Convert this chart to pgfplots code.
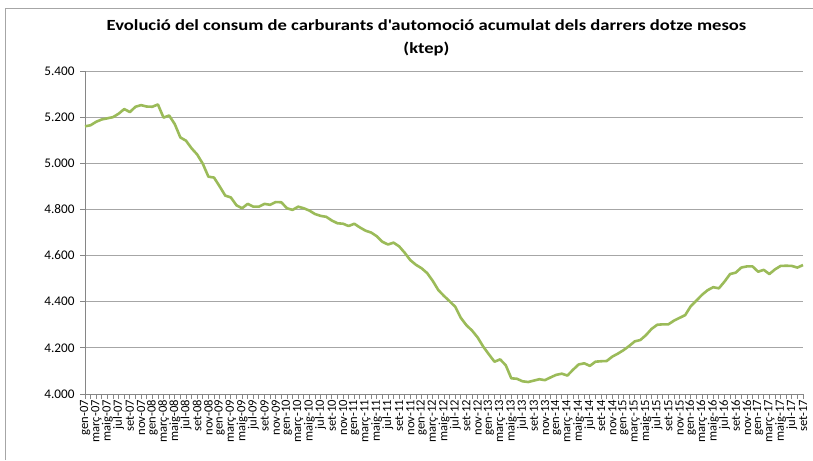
\documentclass[border=0pt]{standalone}
\usepackage{pgfplots}
\pgfplotsset{compat=1.18}
\usepackage{pgfplotstable}
\usepackage{fontspec}
\setmainfont{Carlito}
\newfontfamily\titlefont[FakeStretch=1.2]{Carlito}
\definecolor{linegreen}{HTML}{9BBB59}
\definecolor{gridgray}{HTML}{A6A6A6}
\definecolor{axisgray}{HTML}{868686}
\pgfplotstableread{
i v
0 5160
1 5165
2 5180
3 5190
4 5195
5 5200
6 5215
7 5235
8 5222
9 5245
10 5252
11 5246
12 5245
13 5255
14 5198
15 5207
16 5170
17 5112
18 5098
19 5065
20 5038
21 4998
22 4942
23 4938
24 4900
25 4860
26 4852
27 4818
28 4805
29 4824
30 4812
31 4812
32 4824
33 4820
34 4832
35 4831
36 4805
37 4798
38 4812
39 4805
40 4795
41 4780
42 4772
43 4768
44 4752
45 4740
46 4738
47 4728
48 4738
49 4722
50 4708
51 4700
52 4684
53 4660
54 4648
55 4656
56 4640
57 4612
58 4580
59 4560
60 4545
61 4524
62 4490
63 4450
64 4425
65 4402
66 4378
67 4330
68 4298
69 4275
70 4245
71 4205
72 4172
73 4140
74 4150
75 4125
76 4068
77 4066
78 4055
79 4052
80 4058
81 4064
82 4060
83 4072
84 4083
85 4088
86 4080
87 4105
88 4128
89 4133
90 4122
91 4140
92 4142
93 4143
94 4162
95 4175
96 4190
97 4208
98 4228
99 4234
100 4255
101 4282
102 4300
103 4302
104 4302
105 4318
106 4330
107 4342
108 4381
109 4405
110 4430
111 4450
112 4463
113 4458
114 4487
115 4520
116 4526
117 4548
118 4553
119 4553
120 4530
121 4538
122 4520
123 4540
124 4555
125 4556
126 4555
127 4548
128 4559
}\datatable
\begin{document}
\begin{tikzpicture}[x=1pt,y=1pt]
\path[use as bounding box] (0,0) rectangle (813,460);
\draw[gray!70, line width=0.8pt] (5,0) -- (5,452) -- (813,452);
\begin{axis}[
  at={(85pt,66pt)}, anchor=south west,
  scale only axis, width=718pt, height=323pt,
  xmin=0, xmax=128, ymin=4000, ymax=5400,
  axis x line=bottom, axis y line=left,
  axis line style={axisgray, line width=0.8pt, -},
  ytick={4000,4200,...,5400},
  ymajorgrids, grid style={gridgray, line width=0.8pt},
  /pgf/number format/.cd, fixed, precision=0, 1000 sep={.}, assume math mode=true,
  /pgfplots/.cd,
  yticklabel style={font=\fontsize{13.2}{14}\selectfont, xshift=-2pt},
  xtick={0,2,...,128},
  minor xtick={1,3,...,127},
  xticklabels={gen-07,març-07,maig-07,jul-07,set-07,nov-07,
    gen-08,març-08,maig-08,jul-08,set-08,nov-08,
    gen-09,març-09,maig-09,jul-09,set-09,nov-09,
    gen-10,març-10,maig-10,jul-10,set-10,nov-10,
    gen-11,març-11,maig-11,jul-11,set-11,nov-11,
    gen-12,març-12,maig-12,jul-12,set-12,nov-12,
    gen-13,març-13,maig-13,jul-13,set-13,nov-13,
    gen-14,març-14,maig-14,jul-14,set-14,nov-14,
    gen-15,març-15,maig-15,jul-15,set-15,nov-15,
    gen-16,març-16,maig-16,jul-16,set-16,nov-16,
    gen-17,març-17,maig-17,jul-17,set-17},
  xticklabel style={rotate=90, anchor=east, font=\fontsize{12.6}{12.6}\selectfont, inner sep=1pt},
  tick align=outside,
  major tick length=5pt, minor tick length=5pt,
  tick style={axisgray, line width=0.8pt},
  title={Evolució del consum de carburants d\textquotesingle automoció acumulat dels darrers dotze mesos\\(ktep)},
  title style={at={(axis description cs:0.4756,1)}, anchor=south, yshift=6pt, align=center,
    font=\titlefont\bfseries\fontsize{15.5}{22.5}\selectfont},
  clip=false,
]
\addplot[linegreen, line width=2.6pt, line join=round] table[x=i, y=v] {\datatable};
\end{axis}
\end{tikzpicture}
\end{document}
